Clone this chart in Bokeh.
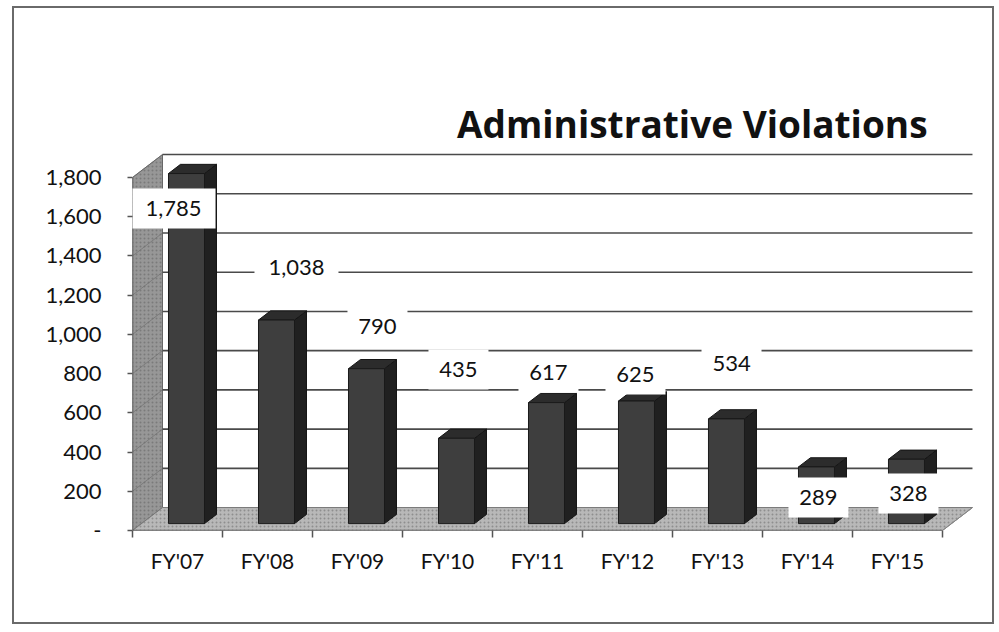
from bokeh.plotting import figure
from bokeh.models import Range1d, FixedTicker, NumeralTickFormatter, Label, ColumnDataSource
from bokeh.core.properties import value
from bokeh.embed import file_html
from bokeh.resources import INLINE

# ---- data ----
categories = ["FY'07", "FY'08", "FY'09", "FY'10", "FY'11", "FY'12", "FY'13", "FY'14", "FY'15"]
violations = [1785, 1038, 790, 435, 617, 625, 534, 289, 328]
y_ticks = [0, 200, 400, 600, 800, 1000, 1200, 1400, 1600, 1800]
title_text = "Administrative Violations"

# data-label anchor placement (as Excel placed them): x offset from category centre, y in value units
label_dx = [-0.044, 0.322, 0.222, 0.122, 0.122, 0.089, 0.156, 0.122, 0.122]
label_y = [1642, 1341, 1040, 821, 806, 796, 852, 168, 189]

# ---- 3D geometry (style constants) ----
DX, DY = 1 / 3, 117.0       # full depth offset in data units
F, D = 0.3, 0.4             # bar front depth fraction, bar depth fraction
W = 0.4                     # bar width in category units
N = len(categories)
YMAX = y_ticks[-1]
FONT = "Lato"

p = figure(width=982, height=618, output_backend="svg", toolbar_location=None,
           x_range=Range1d(0, 9.367), y_range=Range1d(0, 2218),
           min_border_left=118, min_border_right=21, min_border_top=87, min_border_bottom=96)
p.styles = {"margin-left": "12px", "margin-top": "6px", "border": "2px solid #6a6a6a"}
p.background_fill_color = "#ffffff"
p.border_fill_color = "#ffffff"
p.outline_line_color = None
p.grid.visible = False

# side wall
p.patch([0, 0, DX, DX], [0, YMAX, YMAX + DY, DY], fill_color="#979797", line_color="#666666",
        line_width=1, hatch_pattern=".", hatch_color="#7a7a7a", hatch_scale=4, hatch_weight=1)
# floor
p.patch([0, N, N + DX, DX], [0, 0, DY, DY], fill_color="#b8b8b8", line_color="#777777",
        line_width=1, hatch_pattern=".", hatch_color="#8e8e8e", hatch_scale=4, hatch_weight=1)

# gridlines on back wall and side wall
for t in y_ticks[1:]:
    p.line([DX, N + DX], [t + DY, t + DY], line_color="#4a4a4a", line_width=1.6)
    p.line([0, DX], [t, t + DY], line_color="#6a6a6a", line_width=1, line_alpha=0.6)

# front axis edge and floor front edge
p.line([0, 0], [0, YMAX], line_color="#555555", line_width=1.5)
p.line([0, N], [0, 0], line_color="#555555", line_width=1.5)
p.line([N, N + DX], [0, DY], line_color="#888888", line_width=1)

# bars
xl = [i + 0.5 - W / 2 + F * DX for i in range(N)]
xr = [x + W for x in xl]
y0 = F * DY
y1 = (F + D) * DY
front_xs = [[a, b, b, a] for a, b in zip(xl, xr)]
front_ys = [[y0, y0, v + y0, v + y0] for v in violations]
side_xs = [[b, b + D * DX, b + D * DX, b] for b in xr]
side_ys = [[y0, y1, v + y1, v + y0] for v in violations]
top_xs = [[a, b, b + D * DX, a + D * DX] for a, b in zip(xl, xr)]
top_ys = [[v + y0, v + y0, v + y1, v + y1] for v in violations]
p.patches(side_xs, side_ys, fill_color="#202020", line_color="#151515", line_width=1)
p.patches(top_xs, top_ys, fill_color="#2c2c2c", line_color="#151515", line_width=1)
p.patches(front_xs, front_ys, fill_color="#3e3e3e", line_color="#1a1a1a", line_width=1)

# data labels with white boxes
lab_text = ["{:,}".format(v) for v in violations]
lab_src = ColumnDataSource(dict(
    x=[i + 0.5 + d for i, d in enumerate(label_dx)], y=label_y, text=lab_text,
    w=[24 + 12 * len(t) for t in lab_text]))
p.rect(x="x", y="y", width="w", height=40, width_units="screen", height_units="screen",
       source=lab_src, fill_color="#ffffff", line_color=None)
p.text(x="x", y="y", text="text", source=lab_src, text_align="center", text_baseline="middle",
       text_font=value(FONT), text_font_size="22px", text_color="#111111")

# title
p.add_layout(Label(x=6.22, y=2075, text=title_text, text_align="center", text_baseline="alphabetic",
                   text_font="Open Sans", text_font_style="bold", text_font_size="37px",
                   text_color="#111111"))

# axes
xa = p.xaxis[0]
xa.ticker = FixedTicker(ticks=[i + 0.5 for i in range(N)], minor_ticks=list(range(N + 1)))
xa.major_label_overrides = {i + 0.5: c for i, c in enumerate(categories)}
xa.axis_line_color = None
xa.major_tick_line_color = None
xa.minor_tick_out = 7
xa.minor_tick_in = 0
xa.minor_tick_line_color = "#555555"
xa.minor_tick_line_width = 1.5
xa.major_label_standoff = 10
xa.major_label_text_font = FONT
xa.major_label_text_font_size = "21px"
xa.major_label_text_color = "#111111"

ya = p.yaxis[0]
ya.ticker = FixedTicker(ticks=y_ticks, minor_ticks=[])
ya.formatter = NumeralTickFormatter(format="0,0")
ya.major_label_overrides = {0: "-"}
ya.axis_line_color = None
ya.major_tick_out = 5
ya.major_tick_in = 0
ya.major_tick_line_color = "#555555"
ya.major_tick_line_width = 1.5
ya.major_label_standoff = 26
ya.major_label_text_font = FONT
ya.major_label_text_font_size = "22px"
ya.major_label_text_color = "#111111"

open("out.html", "w").write(file_html(p, INLINE))
